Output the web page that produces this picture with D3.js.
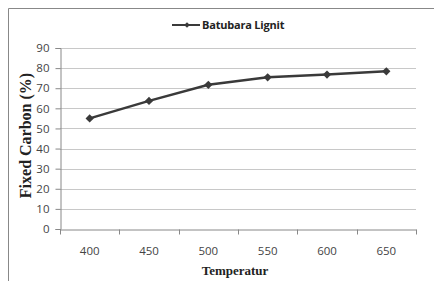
<!DOCTYPE html>
<html>
<head>
<meta charset="utf-8">
<script src="https://cdn.jsdelivr.net/npm/d3@7"></script>
<style>
  body { margin: 0; background: #fff; }
  svg { display: block; }
</style>
</head>
<body>
<div id="chart"></div>
<script>
// data
var temperatures = ["400", "450", "500", "550", "600", "650"];
var fixedCarbon = [55, 63.7, 71.7, 75.4, 76.8, 78.4];
var yTicks = [0, 10, 20, 30, 40, 50, 60, 70, 80, 90];
var seriesName = "Batubara Lignit";

var svgWidth = 434;
var svgHeight = 281;

var margin = { top: 48, right: 18, bottom: 52, left: 60 };
var chart_width = svgWidth - margin.left - margin.right;
var chart_height = svgHeight - margin.top - margin.bottom;

var svg = d3.select("#chart")
    .append("svg")
    .attr("width", svgWidth)
    .attr("height", svgHeight);

// outer frame (runs off the right and bottom)
svg.append("path")
    .attr("d", "M8.5,290 V8.5 H440")
    .attr("fill", "none")
    .attr("stroke", "#888")
    .attr("stroke-width", 1);

var chartGroup = svg.append("g")
    .attr("transform", `translate(${margin.left}, ${margin.top})`);

var xScale = d3.scaleBand()
    .domain(temperatures)
    .range([0, chart_width]);

var yScale = d3.scaleLinear()
    .domain([0, 90])
    .range([chart_height, 0]);

// gridlines
chartGroup.append("g")
    .selectAll("line")
    .data(yTicks.slice(1))
    .enter()
    .append("line")
    .attr("x1", 0)
    .attr("x2", chart_width)
    .attr("y1", d => Math.round(yScale(d)) + 0.5)
    .attr("y2", d => Math.round(yScale(d)) + 0.5)
    .attr("stroke", "#c8c8c8")
    .attr("stroke-width", 1);

// y axis
var leftAxis = d3.axisLeft(yScale)
    .tickValues(yTicks)
    .tickSize(5)
    .tickPadding(6);

var yAxis = chartGroup.append("g")
    .attr("transform", "translate(0.5,0)")
    .call(leftAxis);

// x axis, ticks between categories
var bottomAxis = d3.axisBottom(xScale)
    .tickSize(0)
    .tickPadding(17);

var xAxis = chartGroup.append("g")
    .attr("transform", `translate(0, ${chart_height + 0.5})`)
    .call(bottomAxis);

xAxis.selectAll(".boundary")
    .data(d3.range(temperatures.length + 1))
    .enter()
    .append("line")
    .attr("class", "boundary")
    .attr("x1", i => Math.round(i * xScale.step()) + 0.5)
    .attr("x2", i => Math.round(i * xScale.step()) + 0.5)
    .attr("y1", 0)
    .attr("y2", 5)
    .attr("stroke", "#888");

[yAxis, xAxis].forEach(function(ax) {
    ax.select(".domain").attr("stroke", "#888");
    ax.selectAll(".tick line").attr("stroke", "#888");
    ax.selectAll("text")
        .attr("fill", "#444")
        .attr("font-family", "'Open Sans', 'Liberation Sans', sans-serif")
        .attr("font-size", 11.5);
});

// series line
var line = d3.line()
    .x((d, i) => xScale(temperatures[i]) + xScale.bandwidth() / 2)
    .y(d => yScale(d));

chartGroup.append("path")
    .datum(fixedCarbon)
    .attr("d", line)
    .attr("fill", "none")
    .attr("stroke", "#3a3a3a")
    .attr("stroke-width", 2.5);

// diamond = square turned 45 degrees
var marker = d3.symbol().type(d3.symbolSquare).size(34);

chartGroup.append("g")
    .selectAll("path")
    .data(fixedCarbon)
    .enter()
    .append("path")
    .attr("d", marker)
    .attr("transform", (d, i) => `translate(${xScale(temperatures[i]) + xScale.bandwidth() / 2}, ${yScale(d)}) rotate(45)`)
    .attr("fill", "#3a3a3a");

// axis titles
chartGroup.append("text")
    .attr("transform", `translate(${-margin.left + 31}, ${chart_height / 2 - 3}) rotate(-90)`)
    .attr("text-anchor", "middle")
    .attr("font-family", "'Liberation Serif', 'Times New Roman', serif")
    .attr("font-weight", "bold")
    .attr("font-size", 16)
    .attr("fill", "#222")
    .text("Fixed Carbon (%)");

chartGroup.append("text")
    .attr("x", chart_width / 2 - 3)
    .attr("y", chart_height + 46)
    .attr("text-anchor", "middle")
    .attr("font-family", "'Liberation Serif', 'Times New Roman', serif")
    .attr("font-weight", "bold")
    .attr("font-size", 13)
    .attr("fill", "#222")
    .text("Temperatur");

// legend
var legend = svg.append("g")
    .attr("transform", "translate(172, 25)");

legend.append("line")
    .attr("x1", 0)
    .attr("x2", 28)
    .attr("stroke", "#3a3a3a")
    .attr("stroke-width", 2);

legend.append("path")
    .attr("d", d3.symbol().type(d3.symbolSquare).size(16))
    .attr("transform", "translate(15,0) rotate(45)")
    .attr("fill", "#3a3a3a");

legend.append("text")
    .attr("x", 30)
    .attr("y", 4)
    .attr("font-family", "'Open Sans', 'Liberation Sans', sans-serif")
    .attr("font-weight", "bold")
    .attr("font-size", 11)
    .attr("letter-spacing", -0.2)
    .attr("fill", "#222")
    .text(seriesName);
</script>
</body>
</html>
